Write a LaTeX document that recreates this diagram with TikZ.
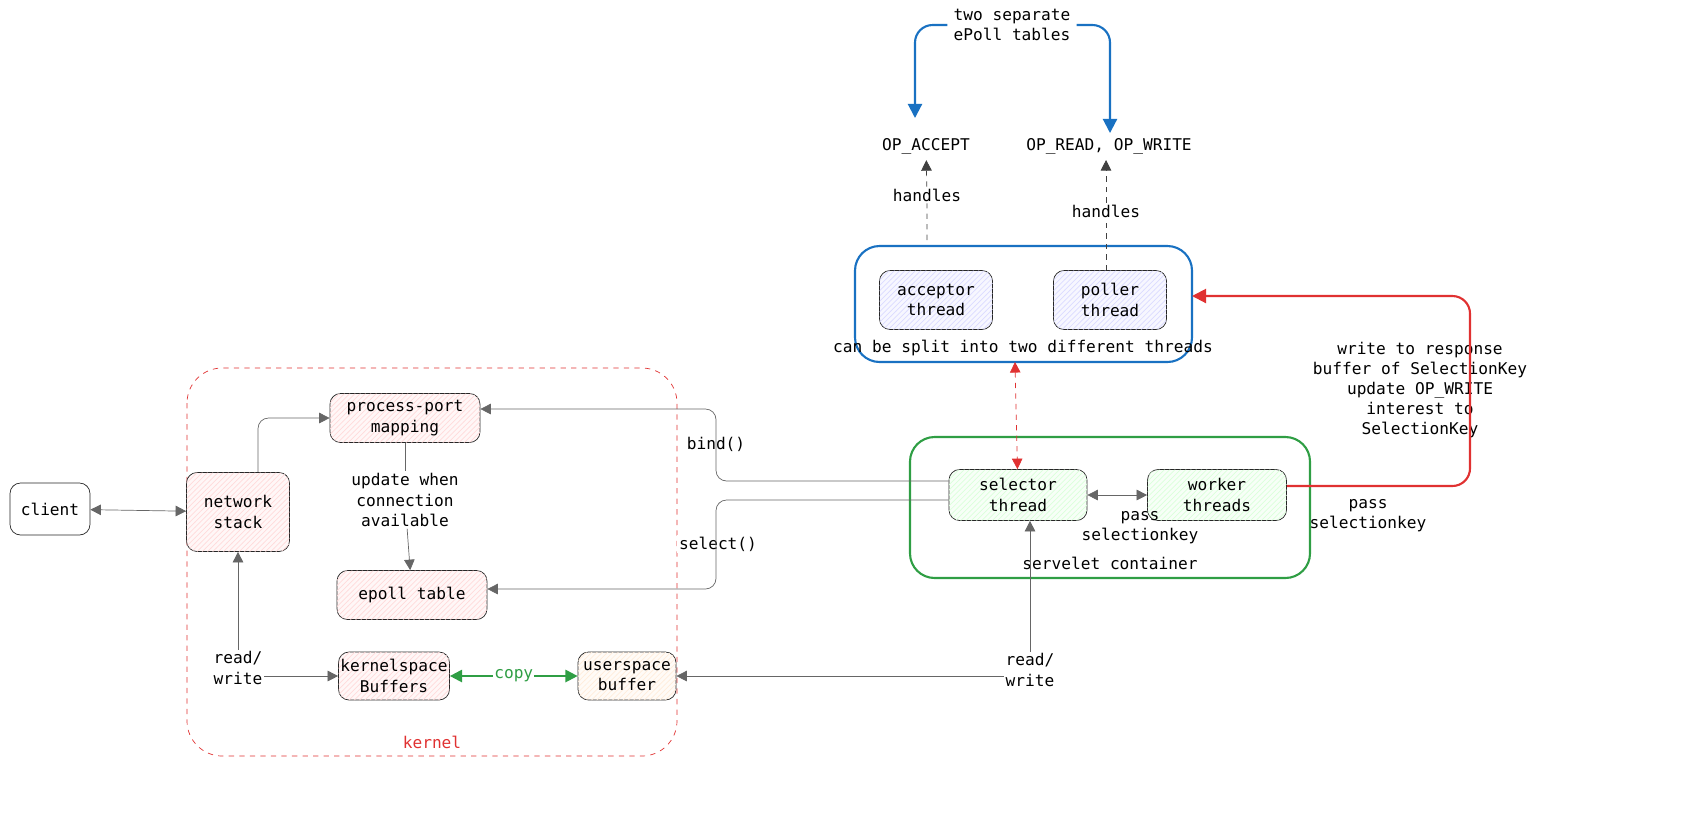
\documentclass[tikz,border=0pt]{standalone}
\usepackage{fontspec}
\setmainfont{DejaVu Sans Mono}
\usetikzlibrary{arrows.meta,patterns}
\definecolor{kred}{HTML}{E03131}
\definecolor{kblue}{HTML}{1971C2}
\definecolor{kgreen}{HTML}{2F9E44}
\begin{document}
\begin{tikzpicture}[x=0.02cm,y=-0.02cm,
	every node/.style={font=\fontsize{9.2}{11.5}\selectfont,align=center},
	box/.style={draw=black!85,rounded corners=6pt,thin,inner sep=0pt},
	hatch/.style={fill=#1!3,postaction={pattern=north east lines,pattern color=#1!14}},
	conn/.style={draw=black!60,thin,-{Triangle[length=6pt,width=6pt]},rounded corners=6pt},
	lbl/.style={fill=white,inner sep=1pt}]
	\useasboundingbox (0,0) rectangle (1706,833);
	% kernel
	\draw[kred,dashed,rounded corners=20pt] (187,368) rectangle (677,756);
	\node[text=kred] (kernel) at (432,742){kernel};
	% boxes
	\node[box,fill=white,minimum width=1.6cm,minimum height=1.04cm] (client) at (50,509){client};
	\node[box,hatch=red,minimum width=2.06cm,minimum height=1.58cm] (stack) at (238,512){network\\stack};
	\node[box,hatch=red,minimum width=3cm,minimum height=0.98cm] (mapping) at (405,418){process-port\\mapping};
	\node[box,hatch=red,minimum width=3cm,minimum height=0.98cm] (epoll) at (412,595){epoll table};
	\node[box,hatch=red,minimum width=2.22cm,minimum height=0.96cm] (kbuf) at (394,676){kernelspace\\Buffers};
	\node[box,hatch=orange,minimum width=1.96cm,minimum height=0.96cm] (ubuf) at (627,676){userspace\\buffer};
	% threads
	\draw[kblue,very thick,rounded corners=14pt] (855,246) rectangle (1192,362);
	\node (split) at (1023,348){can be split into two different threads};
	\node[box,hatch=blue,minimum width=2.26cm,minimum height=1.18cm] (acceptor) at (936,300){acceptor\\thread};
	\node[box,hatch=blue,minimum width=2.26cm,minimum height=1.18cm] (poller) at (1110,300){poller\\thread};
	\coordinate (blueR) at (1192,296);
	\coordinate (blueB) at (1015,362);
	\node (accept) at (926,146){OP\_ACCEPT};
	\node (readwrite) at (1109,146){OP\_READ, OP\_WRITE};
	\node (tables) at (1012,25){two separate\\ePoll tables};
	\node[lbl] (hA) at (927,195){handles};
	\node[lbl] (hP) at (1106,211){handles};
	% container
	\draw[kgreen,very thick,rounded corners=14pt] (910,437) rectangle (1310,578);
	\node (servlet) at (1110,563){servelet container};
	\node[box,hatch=green,minimum width=2.76cm,minimum height=1.02cm] (selector) at (1018,495){selector\\thread};
	\node[box,hatch=green,minimum width=2.78cm,minimum height=1.02cm] (worker) at (1217,495){worker\\threads};
	\node (pass1) at (1140,528){pass\\selectionkey};
	\node (pass2) at (1368,516){pass\\selectionkey};
	\node (note) at (1420,390){write to response\\buffer of SelectionKey\\update OP\_WRITE\\interest to\\SelectionKey};
	% labels on connectors
	\node[lbl] (update) at (405,500){update when\\connection\\available};
	\node[lbl] (bind) at (716,444){bind()};
	\node[lbl] (select) at (718,544){select()};
	\node[lbl] (rwL) at (238,668){read/\\write};
	\node[lbl] (rwR) at (1030,670){read/\\write};
	% connectors
	\draw[conn,{Triangle[length=6pt,width=6pt]}-{Triangle[length=6pt,width=6pt]}] (client) -- (stack);
	\draw[conn] (stack.north -| 258,0) |- (mapping);
	\draw[draw=black!60] (mapping) -- (update);
	\draw[conn] (update) -- (epoll);
	\draw[conn] (rwL) -- (stack);
	\draw[conn] (rwL.east |- kbuf) -- (kbuf);
	\draw[conn] (selector.west |- 0,481) -| (716,409) -- (mapping.east |- 0,409);
	\draw[conn] (selector.west |- 0,500) -| (716,589) -- (epoll.east |- 0,589);
	\draw[conn] (rwR) -- (selector.south -| rwR);
	\draw[conn] (rwR.west |- ubuf) -- (ubuf);
	\draw[conn,{Triangle[length=6pt,width=6pt]}-{Triangle[length=6pt,width=6pt]}] (selector) -- (worker);
	\draw[kgreen,very thick,{Triangle[length=7pt,width=7pt]}-{Triangle[length=7pt,width=7pt]}] (kbuf) -- (ubuf)
		node[midway,fill=white,inner sep=0.5pt,text=kgreen]{copy};
	\draw[kred,dashed,thin,{Triangle[length=6pt,width=6pt]}-{Triangle[length=6pt,width=6pt]}] (blueB) -- (selector);
	\draw[kred,very thick,rounded corners=10pt,-{Triangle[length=8pt,width=8pt]}] (worker.east |- 0,486) -| (1470,296) -- (blueR);
	\draw[black!75,dashed,-{Triangle[length=6pt,width=6pt]}] (927,240) -- (hA) -- (accept);
	\draw[black!75,dashed,-{Triangle[length=6pt,width=6pt]}] (poller.north -| 1106,0) -- (hP) -- (1106,160);
	\draw[kblue,very thick,rounded corners=10pt,-{Triangle[length=8pt,width=8pt]}] (tables.west) -| (915,118);
	\draw[kblue,very thick,rounded corners=10pt,-{Triangle[length=8pt,width=8pt]}] (tables.east) -| (1110,133);
\end{tikzpicture}
\end{document}
